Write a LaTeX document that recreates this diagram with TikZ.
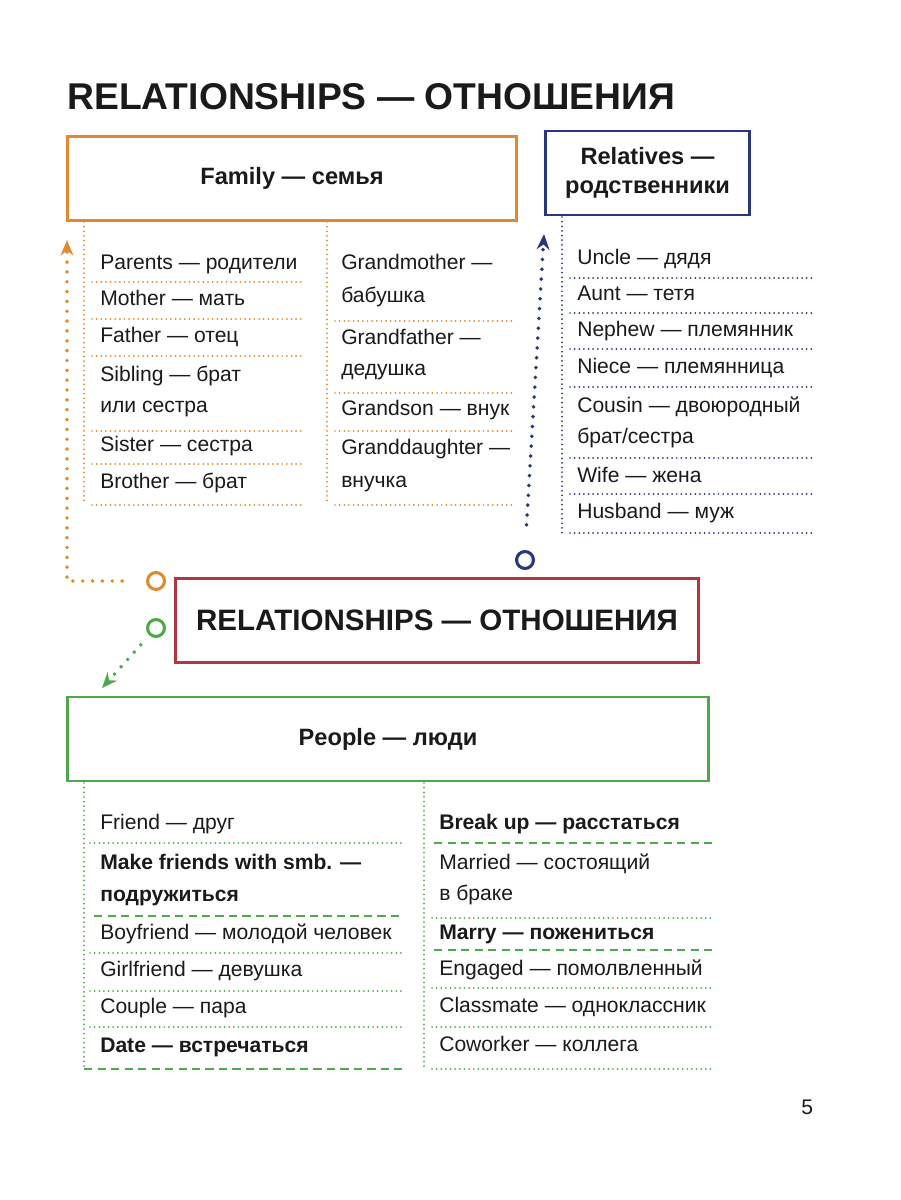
\documentclass[tikz,border=0pt]{standalone}
\usepackage{fontspec}
\setmainfont{Liberation Sans}
\usetikzlibrary{arrows.meta,positioning}
\definecolor{famorange}{HTML}{E08A2E}
\definecolor{relnavy}{HTML}{283779}
\definecolor{mainred}{HTML}{B3363F}
\definecolor{peopgreen}{HTML}{4FA84B}
\definecolor{ink}{HTML}{1A1A1A}

\begin{document}
\begin{tikzpicture}[x=0.025cm,y=-0.025cm,
		hbox/.style={draw,line width=2.1pt,align=center,text=ink,font=\fontsize{16.8}{20}\selectfont\bfseries},
		item/.style={anchor=mid west,inner sep=0pt,yshift=-2pt,text=ink,font=\fontsize{15}{18}\selectfont},
		bitem/.style={item,font=\fontsize{15}{18}\selectfont\bfseries},
		fine/.style={line width=1.4pt,dash pattern=on 0pt off 3.3pt,line cap=round},
		gdash/.style={line width=2pt,dash pattern=on 6pt off 3.6pt},
		dotarr/.style={line width=2.8pt,dash pattern=on 0pt off 7pt,line cap=round,-{Stealth[length=11pt,width=9pt]}},
		ring/.style={circle,draw,line width=2.2pt,minimum size=12pt,inner sep=0pt}
	]
	\useasboundingbox[fill=white] (0,0) rectangle (900,1200);

	% title
	\node[anchor=base west,inner sep=0pt,text=ink,font=\fontsize{26.5}{30}\selectfont\bfseries] (title) at (67,110) {RELATIONSHIPS — ОТНОШЕНИЯ};

	% header boxes
	\node[hbox,draw=famorange,minimum width=11.2cm,minimum height=2.08cm] (family) at (292,178.5) {Family — семья};
	\node[hbox,draw=relnavy,minimum width=5.12cm,minimum height=2.1cm] (relatives) at (647.5,173) {Relatives —\\[1pt]родственники};
	\node[hbox,draw=mainred,minimum width=13.05cm,minimum height=2.12cm,font=\fontsize{21}{25}\selectfont\bfseries] (rel) at (437,620.5) {RELATIONSHIPS — ОТНОШЕНИЯ};
	\node[hbox,draw=peopgreen,minimum width=16cm,minimum height=2.1cm] (people) at (388,739) {People — люди};

	% family, left column
	\draw[fine,famorange] (84,222) -- (84,505);
	\node[item] (parents) at (100,263) {Parents — родители};
	\node[item] (mother) at (100,299) {Mother — мать};
	\node[item] (father) at (100,336) {Father — отец};
	\node[item] (sibling) at (100,375) {Sibling — брат};
	\node[item] (sibling2) at (100,406) {или сестра};
	\node[item] (sister) at (100,445) {Sister — сестра};
	\node[item] (brother) at (100,482) {Brother — брат};
	\draw[fine,famorange] (92,282) -- (303,282);
	\draw[fine,famorange] (92,319) -- (303,319);
	\draw[fine,famorange] (92,356) -- (303,356);
	\draw[fine,famorange] (92,431) -- (303,431);
	\draw[fine,famorange] (92,464) -- (303,464);
	\draw[fine,famorange] (92,505) -- (303,505);

	% family, right column
	\draw[fine,famorange] (327,222) -- (327,505);
	\node[item] (gmother) at (341,263) {Grandmother —};
	\node[item] (gmother2) at (341,296) {бабушка};
	\node[item] (gfather) at (341,338) {Grandfather —};
	\node[item] (gfather2) at (341,369) {дедушка};
	\node[item] (gson) at (341,409) {Grandson — внук};
	\node[item] (gdaughter) at (341,448) {Granddaughter —};
	\node[item] (gdaughter2) at (341,481) {внучка};
	\draw[fine,famorange] (335,321) -- (515,321);
	\draw[fine,famorange] (335,393) -- (515,393);
	\draw[fine,famorange] (335,431) -- (515,431);
	\draw[fine,famorange] (335,505) -- (515,505);

	% relatives
	\draw[fine,relnavy] (562,217) -- (562,535);
	\node[item] (uncle) at (577,258) {Uncle — дядя};
	\node[item] (aunt) at (577,294) {Aunt — тетя};
	\node[item] (nephew) at (577,330) {Nephew — племянник};
	\node[item] (niece) at (577,367) {Niece — племянница};
	\node[item] (cousin) at (577,406) {Cousin — двоюродный};
	\node[item] (cousin2) at (577,437) {брат/сестра};
	\node[item] (wife) at (577,476) {Wife — жена};
	\node[item] (husband) at (577,512) {Husband — муж};
	\draw[fine,relnavy] (570,278) -- (812,278);
	\draw[fine,relnavy] (570,313) -- (812,313);
	\draw[fine,relnavy] (570,349) -- (812,349);
	\draw[fine,relnavy] (570,387) -- (812,387);
	\draw[fine,relnavy] (570,458) -- (812,458);
	\draw[fine,relnavy] (570,494) -- (812,494);
	\draw[fine,relnavy] (570,533) -- (812,533);

	% people, left column
	\draw[fine,peopgreen] (84,783) -- (84,1069);
	\node[item] (friend) at (100,823) {Friend — друг};
	\node[bitem] (makefr) at (100,863) {Make friends with smb. —};
	\node[bitem] (makefr2) at (100,895) {подружиться};
	\node[item] (boyfr) at (100,933) {Boyfriend — молодой человек};
	\node[item] (girlfr) at (100,970) {Girlfriend — девушка};
	\node[item] (couple) at (100,1007) {Couple — пара};
	\node[bitem] (date) at (100,1046) {Date — встречаться};
	\draw[fine,peopgreen] (90,843) -- (402,843);
	\draw[gdash,peopgreen] (94,916) -- (402,916);
	\draw[fine,peopgreen] (90,953) -- (402,953);
	\draw[fine,peopgreen] (90,991) -- (402,991);
	\draw[fine,peopgreen] (90,1027) -- (402,1027);
	\draw[gdash,peopgreen] (84,1069) -- (402,1069);

	% people, right column
	\draw[fine,peopgreen] (424,783) -- (424,1069);
	\node[bitem] (breakup) at (439,823) {Break up — расстаться};
	\node[item] (married) at (439,863) {Married — состоящий};
	\node[item] (married2) at (439,894) {в браке};
	\node[bitem] (marry) at (439,933) {Marry — пожениться};
	\node[item] (engaged) at (439,969) {Engaged — помолвленный};
	\node[item] (classm) at (439,1006) {Classmate — одноклассник};
	\node[item] (cowork) at (439,1045) {Coworker — коллега};
	\draw[gdash,peopgreen] (434,843) -- (712,843);
	\draw[fine,peopgreen] (432,918) -- (712,918);
	\draw[gdash,peopgreen] (434,950) -- (712,950);
	\draw[fine,peopgreen] (432,988) -- (712,988);
	\draw[fine,peopgreen] (432,1027) -- (712,1027);
	\draw[fine,peopgreen] (432,1069) -- (712,1069);

	% rings and arrows
	\node[ring,draw=famorange] (oring) at (156,581) {};
	\node[ring,draw=relnavy] (nring) at (525,560) {};
	\node[ring,draw=peopgreen] (gring) at (156,628) {};
	\coordinate (otip) at (67,240);
	\coordinate (ntip) at (544,234);
	\coordinate (gtip) at (102,688);
	\draw[dotarr,famorange,shorten <=17pt] (oring.west) -| (otip);
	\draw[dotarr,relnavy,shorten <=18pt] (nring.north) -- (ntip);
	\draw[dotarr,peopgreen,shorten <=9pt] (gring) -- (gtip);

	% page number
	\node[item] (pnum) at (801,1108) {5};
\end{tikzpicture}
\end{document}
